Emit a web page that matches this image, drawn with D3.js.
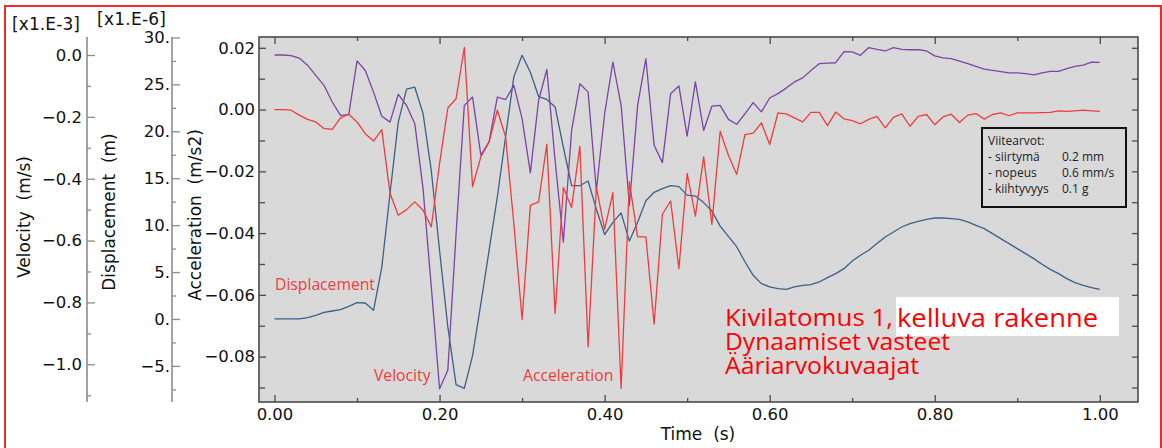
<!DOCTYPE html>
<html>
<head>
<meta charset="utf-8">
<script src="https://cdn.jsdelivr.net/npm/d3@7"></script>
<style>
  html, body { margin: 0; padding: 0; background: #fff; }
  svg { display: block; }
  .pre { white-space: pre; }
</style>
</head>
<body>
<svg id="chart" width="1162" height="448"></svg>
<script>
// Sampling interval of the response histories (s)
const timeStep = 0.01;

// Displacement history, x1.E-6 m
const displacement = [
  0, 0, 0, 0, 0.14, 0.39, 0.71, 0.85, 0.99, 1.35,
  1.74, 1.70, 0.92, 5.5, 13.4, 21.0, 24.5, 24.7, 21.9, 15.8,
  7.3, -0.85, -7.0, -7.4, -3.9, 1.6, 7.3, 13.0, 19.4, 25.8,
  28.1, 26.3, 23.7, 23.4, 22.6, 18.3, 14.2, 14.2, 14.7, 11.7,
  9.0, 10.3, 11.3, 8.3, 10.3, 12.6, 13.5, 13.9, 14.2, 14.1,
  13.2, 13.1, 12.4, 11.5, 9.9, 8.8, 7.7, 6.1, 4.65, 3.77,
  3.41, 3.23, 3.16, 3.41, 3.59, 3.66, 3.94, 4.40, 4.83, 5.36,
  6.18, 6.79, 7.32, 8.03, 8.74, 9.27, 9.80, 10.16, 10.41, 10.62,
  10.76, 10.76, 10.69, 10.62, 10.34, 9.98, 9.63, 9.09, 8.56, 8.03,
  7.50, 6.96, 6.43, 5.83, 5.29, 4.83, 4.30, 3.87, 3.59, 3.34,
  3.16
];

// Velocity history, x1.E-3 m/s
const velocity = [
  0, 0, -0.002, -0.010, -0.033, -0.066, -0.098, -0.152, -0.195, -0.193,
  -0.019, -0.050, -0.120, -0.198, -0.217, -0.127, -0.163, -0.222, -0.432, -0.750,
  -1.079, -1.019, -0.578, -0.163, -0.136, -0.324, -0.281, -0.136, -0.144, -0.098,
  -0.206, -0.381, -0.147, -0.047, -0.341, -0.605, -0.244, -0.093, -0.120, -0.438,
  -0.190, -0.023, -0.163, -0.486, -0.163, -0.012, -0.292, -0.348, -0.125, -0.100,
  -0.262, -0.087, -0.244, -0.165, -0.163, -0.208, -0.224, -0.190, -0.154, -0.184,
  -0.139, -0.125, -0.107, -0.087, -0.074, -0.050, -0.028, -0.026, -0.025, 0.011,
  0.010, -0.001, 0.024, 0.018, 0.013, 0.024, 0.018, 0.017, 0.017, 0.013,
  -0.003, -0.009, -0.012, -0.020, -0.028, -0.037, -0.046, -0.050, -0.054, -0.058,
  -0.058, -0.060, -0.064, -0.058, -0.053, -0.053, -0.044, -0.037, -0.033, -0.023,
  -0.024
];

// Acceleration history, m/s2
const acceleration = [
  0, 0, -0.0002, -0.0018, -0.0032, -0.0040, -0.0061, -0.0064, -0.0027, -0.0015,
  -0.0040, -0.0078, -0.0102, -0.0065, -0.0272, -0.0342, -0.0324, -0.0299, -0.0326, -0.0380,
  -0.0175, 0.0005, 0.0035, 0.0201, -0.0250, -0.0153, -0.0105, -0.0002, -0.0088, -0.0369,
  -0.0680, -0.0310, -0.0299, -0.0112, -0.0660, -0.0252, -0.0317, -0.0119, -0.0768, -0.0252,
  -0.0388, -0.0269, -0.0903, -0.0234, -0.0412, -0.0412, -0.0695, -0.0339, -0.0296, -0.0515,
  -0.0207, -0.0345, -0.0153, -0.0372, -0.0070, -0.0148, -0.0210, -0.0081, -0.0076, -0.0043,
  -0.0113, -0.0011, -0.0014, -0.0027, -0.0040, -0.0009, -0.0009, -0.0052, -0.0008, -0.0030,
  -0.0036, -0.0046, -0.0032, -0.0022, -0.0059, -0.0025, -0.0014, -0.0054, -0.0022, -0.0016,
  -0.0049, -0.0024, -0.0015, -0.0042, -0.0018, -0.0013, -0.0031, -0.0016, -0.0011, -0.0020,
  -0.0011, -0.0011, -0.0011, -0.0010, -0.0009, -0.0004, -0.0006, -0.0004, -0.0002, -0.0004,
  -0.0006
];

// Tick values
const timeTicks = [0, 0.2, 0.4, 0.6, 0.8, 1.0];
const timeMinorTicks = [0.1, 0.3, 0.5, 0.7, 0.9];
const accelTicks = [0.02, 0, -0.02, -0.04, -0.06, -0.08];
const accelMinorTicks = [0.01, -0.01, -0.03, -0.05, -0.07, -0.09];
const velocityTicks = [0, -0.2, -0.4, -0.6, -0.8, -1.0];
const velocityMinorTicks = [-0.1, -0.3, -0.5, -0.7, -0.9, -1.1];
const dispTicks = [30, 25, 20, 15, 10, 5, 0, -5];
const dispMinorTicks = [27.5, 22.5, 17.5, 12.5, 7.5, 2.5, -2.5, -7.5];

// Texts
const referenceTitle = "Viitearvot:";
const referenceRows = [["- siirtymä", "0.2 mm"], ["- nopeus", "0.6 mm/s"], ["- kiihtyvyys", "0.1 g"]];
const titleLines = ["Kivilatomus 1,", "Dynaamiset vasteet", "Ääriarvokuvaajat"];
const titleHighlight = "kelluva rakenne";

// ---------------------------------------------------------------
const svg = d3.select("#chart");
const W = 1162, H = 448;
const plot = { left: 259, right: 1138, top: 37, bottom: 402 };

const times = displacement.map((_, i) => i * timeStep);

const x = d3.scaleLinear().domain([0, 1]).range([274.5, 1099.8]);
const yAcc = d3.scaleLinear().domain([-0.0947, 0.0235]).range([plot.bottom, plot.top]);
const yVel = d3.scaleLinear().domain([-1.1219, 0.0582]).range([plot.bottom, plot.top]);
const yDisp = d3.scaleLinear().domain([-8.85, 30.05]).range([plot.bottom, plot.top]);

const tickFont = "'DejaVu Sans', Verdana, sans-serif";
const tickSize = "16.5px";
const labelFont = "'Open Sans', 'Noto Sans', sans-serif";

svg.append("rect").attr("width", W).attr("height", H).attr("fill", "#fff");

// outer red frame
svg.append("rect")
  .attr("x", 5).attr("y", 6).attr("width", 1156).attr("height", 470)
  .attr("fill", "none").attr("stroke", "#ee2b2b").attr("stroke-width", 2);

// plot area
svg.append("rect")
  .attr("x", plot.left).attr("y", plot.top)
  .attr("width", plot.right - plot.left).attr("height", plot.bottom - plot.top)
  .attr("fill", "#d9d9d9");

svg.append("clipPath").attr("id", "plotClip")
  .append("rect")
  .attr("x", plot.left).attr("y", plot.top)
  .attr("width", plot.right - plot.left).attr("height", plot.bottom - plot.top);

function styleAxis(g, color) {
  g.select(".domain").remove();
  g.selectAll(".tick line").attr("stroke", color).attr("stroke-width", 1.3);
  g.selectAll(".tick text")
    .attr("fill", "#111")
    .style("font-family", tickFont)
    .style("font-size", tickSize);
}

// free-standing left axes (velocity, displacement)
function sideAxis(xPos, scale, major, minor, fmt, labelGap) {
  const g = svg.append("g").attr("transform", `translate(${xPos},0)`);
  g.append("line")
    .attr("x1", 0).attr("x2", 0).attr("y1", plot.top).attr("y2", plot.bottom)
    .attr("stroke", "#8c8c8c").attr("stroke-width", 1.6);
  const gMaj = g.append("g").call(d3.axisRight(scale).tickValues(major).tickSize(8).tickFormat(fmt));
  styleAxis(gMaj, "#8c8c8c");
  gMaj.selectAll(".tick text").attr("x", -labelGap).attr("text-anchor", "end");
  const gMin = g.append("g").call(d3.axisRight(scale).tickValues(minor).tickSize(4).tickFormat(""));
  styleAxis(gMin, "#8c8c8c");
}

sideAxis(87, yVel, velocityTicks, velocityMinorTicks, d3.format(".1f"), 5);
sideAxis(172, yDisp, dispTicks, dispMinorTicks, d => d3.format("d")(d) + ".", 2);

// plot frame axes
const frameColor = "#4a4a4a";
const gL = svg.append("g").attr("transform", `translate(${plot.left},0)`)
  .call(d3.axisRight(yAcc).tickValues(accelTicks).tickSize(7).tickFormat(d3.format(".2f")));
styleAxis(gL, frameColor);
gL.selectAll(".tick text").attr("x", -4).attr("text-anchor", "end");
styleAxis(svg.append("g").attr("transform", `translate(${plot.left},0)`)
  .call(d3.axisRight(yAcc).tickValues(accelMinorTicks).tickSize(6).tickFormat("")), frameColor);

styleAxis(svg.append("g").attr("transform", `translate(${plot.right},0)`)
  .call(d3.axisLeft(yAcc).tickValues(accelTicks.concat(accelMinorTicks)).tickSize(6).tickFormat("")), frameColor);

const gB = svg.append("g").attr("transform", `translate(0,${plot.bottom})`)
  .call(d3.axisTop(x).tickValues(timeTicks).tickSize(7).tickFormat(d3.format(".2f")));
styleAxis(gB, frameColor);
gB.selectAll(".tick text").attr("y", 6).attr("dy", "0.71em");
styleAxis(svg.append("g").attr("transform", `translate(0,${plot.bottom})`)
  .call(d3.axisTop(x).tickValues(timeMinorTicks).tickSize(4).tickFormat("")), frameColor);

styleAxis(svg.append("g").attr("transform", `translate(0,${plot.top})`)
  .call(d3.axisBottom(x).tickValues(timeTicks).tickSize(7).tickFormat("")), frameColor);
styleAxis(svg.append("g").attr("transform", `translate(0,${plot.top})`)
  .call(d3.axisBottom(x).tickValues(timeMinorTicks).tickSize(4).tickFormat("")), frameColor);

svg.append("rect")
  .attr("x", plot.left).attr("y", plot.top)
  .attr("width", plot.right - plot.left).attr("height", plot.bottom - plot.top)
  .attr("fill", "none").attr("stroke", frameColor).attr("stroke-width", 1.6);

// response curves
const series = [
  { values: displacement, scale: yDisp, color: "#3d5f88" },
  { values: velocity, scale: yVel, color: "#7d44a6" },
  { values: acceleration, scale: yAcc, color: "#f03c3c" }
];
const curves = svg.append("g").attr("clip-path", "url(#plotClip)");
series.forEach(s => {
  const line = d3.line().x((d, i) => x(times[i])).y(d => s.scale(d));
  curves.append("path")
    .attr("d", line(s.values))
    .attr("fill", "none")
    .attr("stroke", s.color)
    .attr("stroke-width", 1.3)
    .attr("stroke-linejoin", "round");
});

// axis titles
function rotTitle(tx, ty, text) {
  svg.append("text").attr("class", "pre")
    .attr("transform", `translate(${tx},${ty}) rotate(-90)`)
    .attr("text-anchor", "middle")
    .attr("fill", "#111")
    .style("font-family", tickFont).style("font-size", "17px")
    .text(text);
}
rotTitle(30, 217, "Velocity  (m/s)");
rotTitle(115, 212, "Displacement  (m)");
rotTitle(201, 215, "Acceleration  (m/s2)");

svg.append("text").attr("class", "pre")
  .attr("x", 698).attr("y", 440).attr("text-anchor", "middle")
  .attr("fill", "#111")
  .style("font-family", tickFont).style("font-size", "17px")
  .text("Time  (s)");

svg.append("text").attr("x", 12).attr("y", 30)
  .attr("fill", "#111").style("font-family", tickFont).style("font-size", "17px")
  .attr("textLength", 68).attr("lengthAdjust", "spacing")
  .text("[x1.E-3]");
svg.append("text").attr("x", 97).attr("y", 25)
  .attr("fill", "#111").style("font-family", tickFont).style("font-size", "17px")
  .attr("textLength", 69).attr("lengthAdjust", "spacing")
  .text("[x1.E-6]");

// curve names
const curveNames = [
  { text: "Displacement", x: 275, y: 290 },
  { text: "Velocity", x: 374, y: 381 },
  { text: "Acceleration", x: 523, y: 381 }
];
svg.selectAll("text.curveName").data(curveNames).join("text")
  .attr("class", "curveName")
  .attr("x", d => d.x).attr("y", d => d.y)
  .attr("fill", "#f03c3c")
  .style("font-family", labelFont).style("font-size", "15.7px")
  .text(d => d.text);

// reference values box
const box = svg.append("g");
box.append("rect")
  .attr("x", 982).attr("y", 128).attr("width", 144).attr("height", 79)
  .attr("fill", "none").attr("stroke", "#111").attr("stroke-width", 2);
box.append("text").attr("x", 988).attr("y", 145)
  .attr("fill", "#222").style("font-family", labelFont).style("font-size", "12px")
  .text(referenceTitle);
referenceRows.forEach((r, i) => {
  const yy = 161 + i * 16;
  box.append("text").attr("x", 988).attr("y", yy)
    .attr("fill", "#222").style("font-family", labelFont).style("font-size", "12px")
    .text(r[0]);
  box.append("text").attr("x", 1062).attr("y", yy)
    .attr("fill", "#222").style("font-family", labelFont).style("font-size", "12px")
    .text(r[1]);
});

// title block: one text element, the second half of the first line on a white patch
svg.append("rect")
  .attr("x", 896).attr("y", 297).attr("width", 223).attr("height", 39)
  .attr("fill", "#fff");
const title = svg.append("text")
  .attr("fill", "#ff0000")
  .style("font-family", labelFont).style("font-size", "23px");
const titleSpans = [
  { text: titleLines[0], x: 725, y: 326, size: 23, len: 168 },
  { text: titleHighlight, x: 897, y: 326.5, size: 26, len: 201 },
  { text: titleLines[1], x: 725, y: 350, size: 23, len: 225 },
  { text: titleLines[2], x: 725, y: 374, size: 23, len: 194 }
];
titleSpans.forEach(s => {
  title.append("tspan")
    .attr("x", s.x).attr("y", s.y)
    .style("font-size", s.size + "px")
    .attr("textLength", s.len).attr("lengthAdjust", "spacingAndGlyphs")
    .text(s.text);
});
</script>
</body>
</html>
